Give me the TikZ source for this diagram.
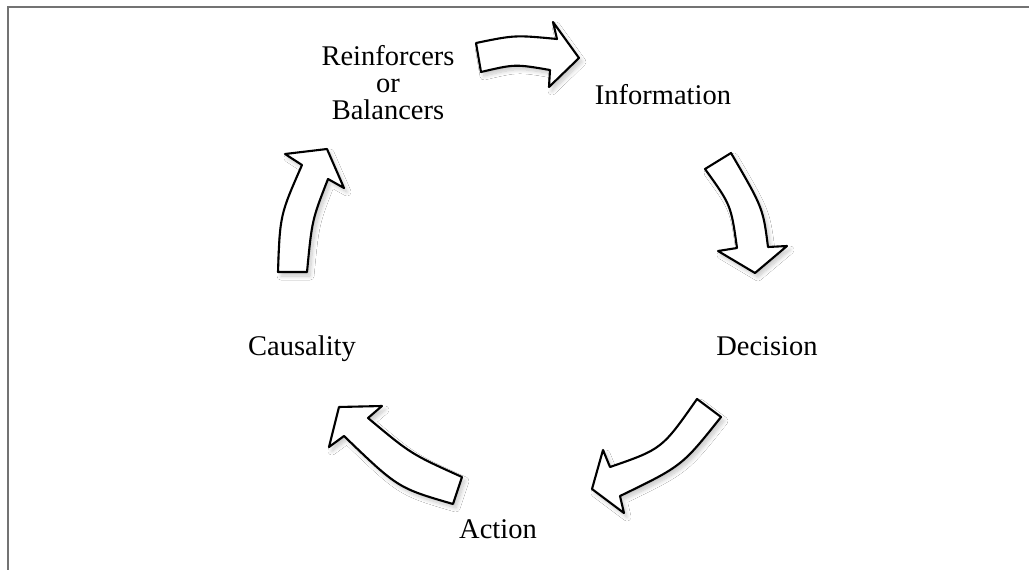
\documentclass[tikz,border=0pt]{standalone}
\usepackage{fontspec}
\setmainfont{Liberation Serif}
\usetikzlibrary{shadows.blur}
\begin{document}
\begin{tikzpicture}[x=1pt,y=-1pt,
  blockarrow/.style={draw=black, fill=white, line width=2.1pt, line join=round,
    blur shadow={shadow xshift=3pt, shadow yshift=-4pt, shadow blur steps=10,
      shadow blur radius=4pt, shadow opacity=22}},
  label/.style={font=\fontsize{28.5}{27}\selectfont, align=center, inner sep=0pt},
  frame/.style={draw=black!55, line width=2pt}]
\useasboundingbox (0,0) rectangle (1029,570);
\fill[white] (0,0) rectangle (1029,570);
\draw[frame] (8,570) -- (8,7) -- (1029,7);

% stage labels
\node[label, anchor=north] (rb) at (388,45) {Reinforcers\\or\\Balancers};
\node[label, anchor=base] (info) at (663,104) {Information};
\node[label, anchor=base] (dec) at (767,355) {Decision};
\node[label, anchor=base] (act) at (498,538) {Action};
\node[label, anchor=base] (cau) at (302,355) {Causality};

% curved block arrows between the stages
\path[blockarrow] (476,43) .. controls (515,35) .. (557,39) -- (553,22) -- (579,58)
  -- (549,87) -- (550,70) .. controls (515,64) .. (481,72) -- cycle;
\path[blockarrow] (731,153) .. controls (763,208) .. (768,247) -- (787,246) -- (755,273)
  -- (718,251) -- (737,248) .. controls (731,205) .. (705,169) -- cycle;
\path[blockarrow] (721,417) .. controls (682,466) .. (620,496) -- (624,513) -- (592,489)
  -- (603,450) -- (610,467) .. controls (662,449) .. (697,399) -- cycle;
\path[blockarrow] (453,504) .. controls (398,488) .. (344,436) -- (329,447) -- (339,407)
  -- (382,406) -- (368,418) .. controls (411,454) .. (462,477) -- cycle;
\path[blockarrow] (278,272) .. controls (280,215) .. (302,165) -- (285,154) -- (327,149)
  -- (344,188) -- (328,179) .. controls (312,220) .. (307,272) -- cycle;
\end{tikzpicture}
\end{document}
